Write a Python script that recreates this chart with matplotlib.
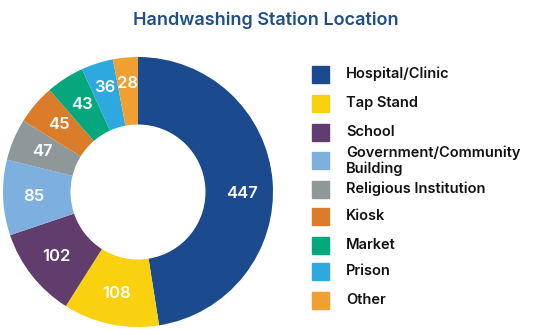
import numpy as np
import matplotlib.pyplot as plt
from matplotlib.patches import Rectangle

plt.rcParams['font.family'] = ['Inter', 'DejaVu Sans']

categories = ['Hospital/Clinic', 'Tap Stand', 'School', 'Government/Community\nBuilding',
              'Religious Institution', 'Kiosk', 'Market', 'Prison', 'Other']
values = [447, 108, 102, 85, 47, 45, 43, 36, 28]
colors = ['#1b4a8f', '#f9d10f', '#613d6e', '#7dafdf', '#8e9898',
          '#db7c2a', '#07a77e', '#2ea9e0', '#f0a030']

W, H = 537, 330
fig = plt.figure(figsize=(W / 100, H / 100), dpi=100)

# donut: center (138,192), radius 135 px
cx, cy, r = 138, 192, 135
ax = fig.add_axes([(cx - r) / W, (H - cy - r) / H, 2 * r / W, 2 * r / H])
wedges, _ = ax.pie(values, colors=colors, startangle=90, counterclock=False,
                   radius=1, wedgeprops=dict(width=0.5, linewidth=0))
ax.set_xlim(-1, 1)
ax.set_ylim(-1, 1)
ax.set_aspect('equal')
ax.axis('off')

for w, v in zip(wedges, values):
    ang = np.deg2rad((w.theta1 + w.theta2) / 2)
    if v == max(values):
        ang = np.deg2rad(-1)  # big slice label sits level with the hole
    d = 0.77 if v > 40 else 0.81
    ax.text(d * np.cos(ang), d * np.sin(ang), str(v), ha='center', va='center',
            color='white', fontsize=12, fontweight='semibold')

fig.text(266 / W, 1 - 20 / H, 'Handwashing Station Location', ha='center', va='center',
         color='#1f4e8c', fontsize=13, fontweight='semibold')

# legend
row_y = [74, 103, 132, 160.5, 189, 216, 245, 271, 300]
for lab, col, ty in zip(categories, colors, row_y):
    fig.patches.append(Rectangle((312 / W, 1 - (ty + 8.5) / H), 17 / W, 17 / H,
                                 transform=fig.transFigure, color=col))
    fig.text(346 / W, 1 - ty / H, lab, ha='left', va='center', color='#111111',
             fontsize=10.5, fontweight='semibold', linespacing=1.15)

fig.savefig('out.png', dpi=100)
